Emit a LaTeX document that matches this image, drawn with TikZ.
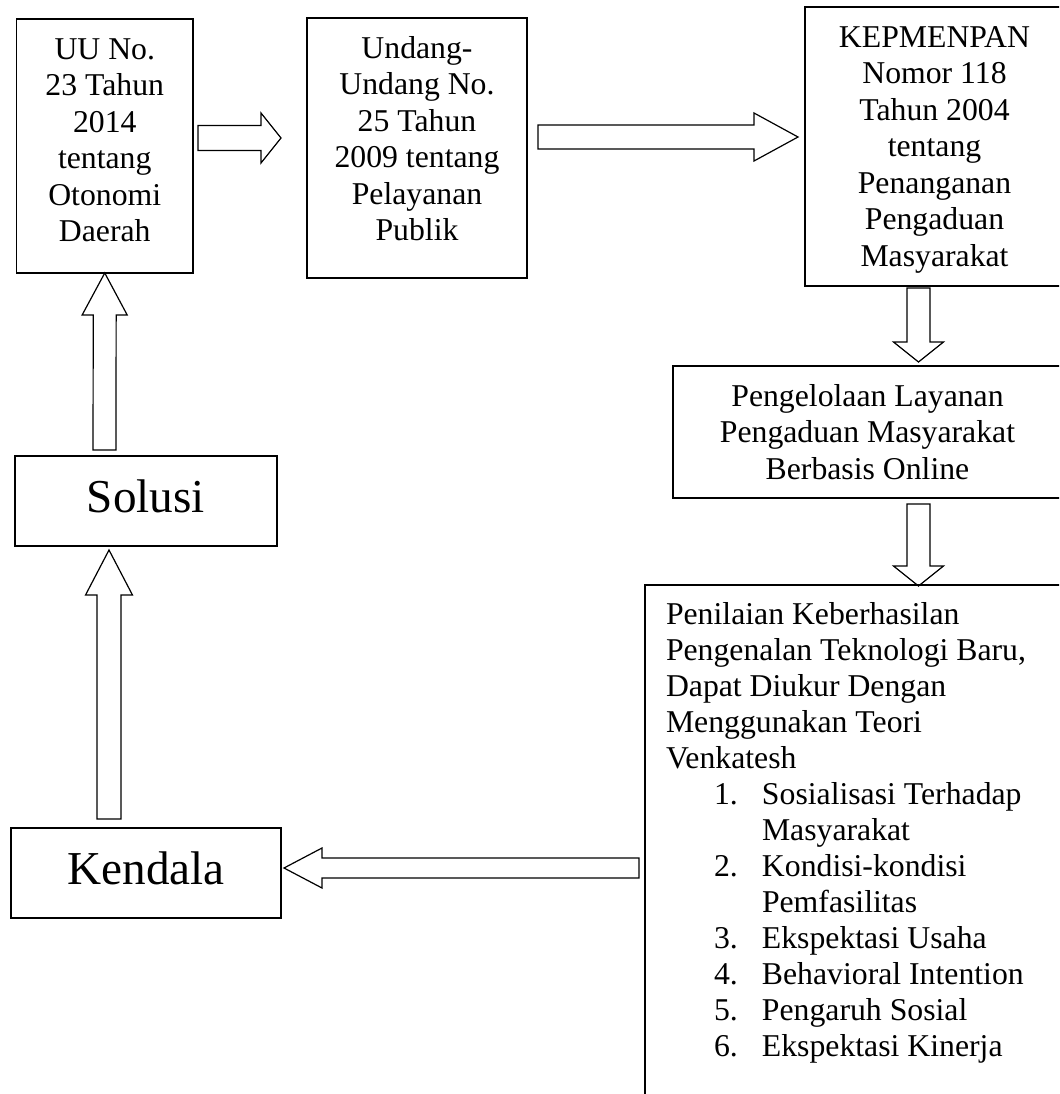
\documentclass[tikz,border=0pt]{standalone}
\usepackage{fontspec}
\setmainfont{Liberation Serif}
\usetikzlibrary{calc}

\newcommand{\lawtext}[3]{\parbox[c][#2][t]{#1}{\centering\vspace*{11pt}\strut #3}}
\newcommand{\listno}[2]{\hspace*{36pt}\makebox[36pt][l]{#1}#2}
\newcommand{\listmore}[1]{\hspace*{72pt}#1}

\tikzset{
lawbox/.style={draw, line width=1.4pt, inner sep=0pt, outer sep=0pt,
  font=\fontsize{23.8pt}{27.4pt}\selectfont},
bigbox/.style={draw, line width=1.4pt, outer sep=0pt, text height=24pt, text depth=7.5pt,
  font=\fontsize{35.4pt}{42pt}\selectfont},
blockarrow/.style n args={3}{draw, line width=0.9pt, to path={
  ($(\tikztostart)!#2!90:(\tikztotarget)$)
  -- ($(\tikztotarget)!#1!(\tikztostart)!#2!-90:(\tikztostart)$)
  -- ($(\tikztotarget)!#1!(\tikztostart)!#3!-90:(\tikztostart)$)
  -- (\tikztotarget)
  -- ($(\tikztotarget)!#1!(\tikztostart)!#3!90:(\tikztostart)$)
  -- ($(\tikztotarget)!#1!(\tikztostart)!#2!90:(\tikztostart)$)
  -- ($(\tikztostart)!#2!-90:(\tikztotarget)$)
  -- cycle}}}

\begin{document}
\begin{tikzpicture}[x=0.75pt, y=-0.75pt]

    \useasboundingbox (0,0) rectangle (1059,1094);
    \clip (0,0) rectangle (1059,1094);

                \node[lawbox] (uu) at (104.75,146) {\lawtext{132.4pt}{190.5pt}{UU No.\\23 Tahun\\2014\\tentang\\Otonomi\\Daerah}};
                \node[lawbox] (uupp) at (417,148) {\lawtext{165pt}{195pt}{Undang-\\Undang No.\\25 Tahun\\2009 tentang\\Pelayanan\\Publik}};
                \node[lawbox] (kep) at (934.5,146.5) {\lawtext{194.25pt}{209.25pt}{KEPMENPAN\\Nomor 118\\Tahun 2004\\tentang\\Penanganan\\Pengaduan\\Masyarakat}};
                \node[lawbox] (peng) at (867.5,432) {\lawtext{291.75pt}{99pt}{Pengelolaan Layanan\\Pengaduan Masyarakat\\Berbasis Online}};
                \node[lawbox, inner xsep=15.75pt, anchor=north west, font=\fontsize{23.8pt}{27pt}\selectfont] (nilai) at (645,585) {\parbox[c][400pt][t]{500pt}{\raggedright\vspace*{10.35pt}\strut
                    Penilaian Keberhasilan\\
                    Pengenalan Teknologi Baru,\\
                    Dapat Diukur Dengan\\
                    Menggunakan Teori\\
                    Venkatesh\\
                    \listno{1.}{Sosialisasi Terhadap}\\
                    \listmore{Masyarakat}\\
                    \listno{2.}{Kondisi-kondisi}\\
                    \listmore{Pemfasilitas}\\
                    \listno{3.}{Ekspektasi Usaha}\\
                    \listno{4.}{Behavioral Intention}\\
                    \listno{5.}{Pengaruh Sosial}\\
                    \listno{6.}{Ekspektasi Kinerja}}};
                \node[bigbox, minimum width=196.5pt, minimum height=67.5pt] (solusi) at (146,501) {Solusi};
                \node[bigbox, minimum width=202.5pt, minimum height=67.5pt] (kendala) at (146,873) {Kendala};

                \draw[blockarrow={15pt}{9.4pt}{18.75pt}] ([shift={(5,-8)}]uu.east) to ([shift={(-26,-10)}]uupp.west);
                \draw[blockarrow={33pt}{9pt}{18pt}] ([shift={(11,-11)}]uupp.east) to ([shift={(-7,-9.5)}]kep.west);
                \draw[blockarrow={15pt}{8.6pt}{18.75pt}] ([shift={(-16,2)}]kep.south) to ([shift={(51,-4)}]peng.north);
                \draw[blockarrow={15pt}{8.6pt}{18.75pt}] ([shift={(51,6)}]peng.south) to ([shift={(273.5,1)}]nilai.north west);
                \draw[blockarrow={28.5pt}{7.5pt}{15pt}] ([shift={(-6,283)}]nilai.north west) to ([shift={(3,-5)}]kendala.east);
                \draw[blockarrow={33.75pt}{9pt}{17.6pt}] ([shift={(-37,-9)}]kendala.north) to ([shift={(-37,4)}]solusi.south);
                \draw[blockarrow={31.5pt}{8.6pt}{16.9pt}] ([shift={(-41.5,-6)}]solusi.north) to (uu.south);

\end{tikzpicture}
\end{document}
